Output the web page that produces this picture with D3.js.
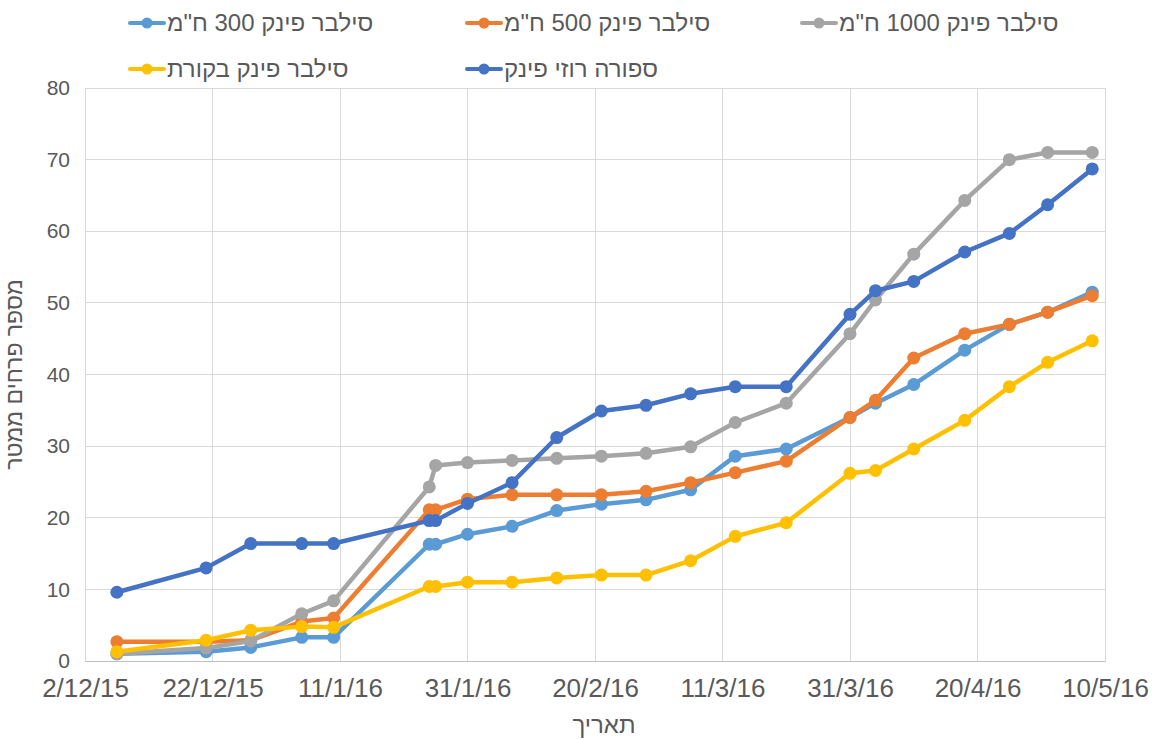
<!DOCTYPE html>
<html><head><meta charset="utf-8">
<script src="https://cdn.jsdelivr.net/npm/d3@7"></script>
<style>body{margin:0;background:#fff}svg{display:block}</style>
</head><body>
<svg id="c" width="1154" height="740"></svg>
<script>
const dates = ["2015-12-07","2015-12-21","2015-12-28","2016-01-05","2016-01-10","2016-01-25","2016-01-26","2016-01-31","2016-02-07","2016-02-14","2016-02-21","2016-02-28","2016-03-06","2016-03-13","2016-03-21","2016-03-31","2016-04-04","2016-04-10","2016-04-18","2016-04-25","2016-05-01","2016-05-08"];
const silver300  = [1.0,1.3,1.9,3.3,3.3,16.3,16.3,17.7,18.8,21.0,21.9,22.5,23.9,28.6,29.6,34.0,36.0,38.6,43.4,47.0,48.7,51.5];
const silver500  = [2.7,2.7,2.9,5.5,6.0,21.1,21.1,22.6,23.2,23.2,23.2,23.7,24.9,26.3,27.9,34.0,36.4,42.3,45.7,47.0,48.7,51.0];
const silver1000 = [1.0,1.8,2.8,6.6,8.4,24.3,27.3,27.7,28.0,28.3,28.6,29.0,29.9,33.3,36.0,45.7,50.4,56.8,64.3,70.0,71.0,71.0];
const silverCtrl = [1.3,2.9,4.3,4.8,4.7,10.4,10.4,11.0,11.0,11.6,12.0,12.0,14.0,17.4,19.3,26.2,26.6,29.6,33.6,38.3,41.7,44.7];
const sporaRosy  = [9.6,13.0,16.4,16.4,16.4,19.6,19.6,22.0,24.9,31.2,34.9,35.7,37.3,38.3,38.3,48.4,51.7,53.0,57.1,59.7,63.7,68.7];
const seriesNames = ['סילבר פינק 300 ח"מ','סילבר פינק 500 ח"מ','סילבר פינק 1000 ח"מ','סילבר פינק בקורת','ספורה רוזי פינק'];
const seriesColors = ["#5B9BD5","#ED7D31","#A5A5A5","#FFC000","#4472C4"];
const xTickLabels = ["2/12/15","22/12/15","11/1/16","31/1/16","20/2/16","11/3/16","31/3/16","20/4/16","10/5/16"];
const yTicks = [0,10,20,30,40,50,60,70,80];
const yTitle = "מספר פרחים ממטר";
const xTitle = "תאריך";

const seriesValues = [silver300, silver500, silver1000, silverCtrl, sporaRosy];
const parseISO = d3.timeParse("%Y-%m-%d");
const parseTick = d3.timeParse("%d/%m/%y");
const xDates = dates.map(parseISO);
const tickDates = xTickLabels.map(parseTick);

const L = 85, R = 1105, T = 88, B = 661;
const svg = d3.select("#c");
const font = "'Liberation Sans', Arial, sans-serif";
const textColor = "#595959";

const x = d3.scaleTime().domain([tickDates[0], tickDates[tickDates.length-1]]).range([L, R]);
const y = d3.scaleLinear().domain([0, 80]).range([B, T]);

// gridlines
const grid = svg.append("g");
grid.selectAll("line.h").data(yTicks).join("line")
  .attr("x1", L).attr("x2", R).attr("y1", d => y(d)).attr("y2", d => y(d))
  .attr("stroke", "#d9d9d9").attr("stroke-width", 1).attr("shape-rendering","crispEdges");
grid.selectAll("line.v").data(tickDates).join("line")
  .attr("x1", d => x(d)).attr("x2", d => x(d)).attr("y1", T).attr("y2", B)
  .attr("stroke", "#d9d9d9").attr("stroke-width", 1).attr("shape-rendering","crispEdges");

// x axis
const xAxis = d3.axisBottom(x).tickValues(tickDates).tickSize(0).tickPadding(18)
  .tickFormat((d,i) => xTickLabels[i]);
const gx = svg.append("g").attr("transform", `translate(0,${B})`).call(xAxis);
gx.select(".domain").attr("stroke", "#bfbfbf");
gx.selectAll("text").attr("font-family", font).attr("font-size", 26).attr("fill", textColor).attr("dy","0.71em");

// y axis
const yAxis = d3.axisLeft(y).tickValues(yTicks).tickSize(0).tickPadding(15);
const gy = svg.append("g").attr("transform", `translate(${L},0)`).call(yAxis);
gy.select(".domain").remove();
gy.selectAll("text").attr("font-family", font).attr("font-size", 21).attr("fill", textColor);

// titles
svg.append("text").attr("x", (L+R)/2 + 9).attr("y", 733).attr("text-anchor","middle")
  .attr("font-family", font).attr("font-size", 24).attr("fill", textColor).text(xTitle);
svg.append("text").attr("transform", `translate(22,${(T+B)/2}) rotate(-90)`).attr("text-anchor","middle")
  .attr("font-family", font).attr("font-size", 23).attr("fill", textColor).text(yTitle);

// series
const line = d3.line().x((d,i) => x(xDates[i])).y(d => y(d));
seriesValues.forEach((vals, s) => {
  const g = svg.append("g");
  g.append("path").datum(vals).attr("d", line).attr("fill","none")
    .attr("stroke", seriesColors[s]).attr("stroke-width", 4.5).attr("stroke-linejoin","round").attr("stroke-linecap","round");
  g.selectAll("circle").data(vals).join("circle")
    .attr("cx", (d,i) => x(xDates[i])).attr("cy", d => y(d)).attr("r", 6.5)
    .attr("fill", seriesColors[s]);
});

// legend
const legendPos = [[130,23],[467,23],[802,23],[130,69],[467,69]];
seriesNames.forEach((name, s) => {
  const [lx, ly] = legendPos[s];
  const g = svg.append("g").attr("transform", `translate(${lx},${ly})`);
  g.append("line").attr("x1",0).attr("x2",34).attr("y1",0).attr("y2",0)
    .attr("stroke", seriesColors[s]).attr("stroke-width",4).attr("stroke-linecap","round");
  g.append("circle").attr("cx",17).attr("cy",0).attr("r",5.5).attr("fill",seriesColors[s]);
  g.append("text").attr("x", 37).attr("y", 0).attr("dy","0.35em")
    .attr("direction","rtl").attr("text-anchor","end")
    .attr("font-family", font).attr("font-size", 24).attr("fill", textColor).text(name);
});
</script>
</body></html>
